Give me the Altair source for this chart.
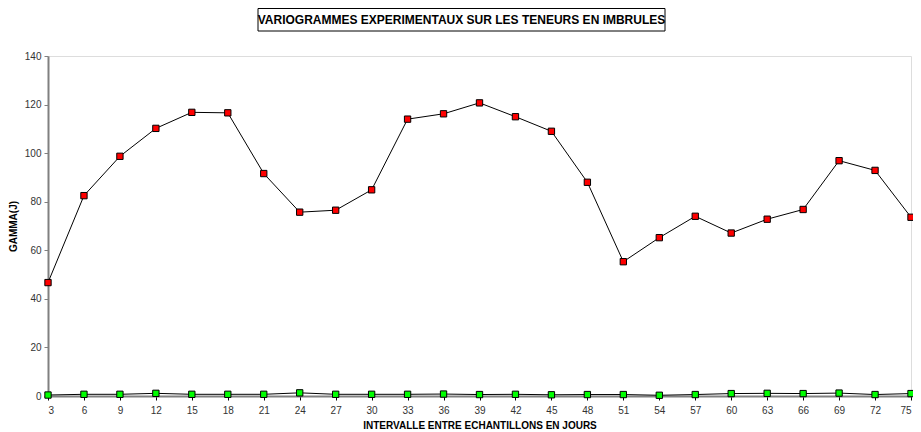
import altair as alt
import pandas as pd

# Data
lags = [3, 6, 9, 12, 15, 18, 21, 24, 27, 30, 33, 36, 39, 42, 45, 48, 51, 54, 57, 60, 63, 66, 69, 72, 75]
gamma_red = [46.7, 82.5, 98.7, 110.2, 116.8, 116.6, 91.6, 75.7, 76.5, 84.9, 114.0, 116.2, 120.7,
             115.0, 109.0, 88.0, 55.3, 65.2, 74.0, 67.1, 72.8, 76.8, 96.9, 92.9, 73.6]
gamma_green = [0.4, 0.7, 0.7, 1.1, 0.7, 0.7, 0.7, 1.3, 0.7, 0.7, 0.7, 0.8, 0.6,
               0.7, 0.5, 0.6, 0.6, 0.3, 0.6, 1.0, 1.1, 1.0, 1.2, 0.6, 1.0]
x_ticks = lags
y_ticks = [0, 20, 40, 60, 80, 100, 120, 140]
title_text = ["VARIOGRAMMES EXPERIMENTAUX SUR LES TENEURS EN IMBRULES"]

df = pd.DataFrame({"lag": lags, "red": gamma_red, "green": gamma_green})
tdf = pd.DataFrame({"t": title_text})

FONT = "Liberation Sans"

x = alt.X("lag:Q", scale=alt.Scale(domain=[3, 75], nice=False, zero=False),
          axis=alt.Axis(values=x_ticks, title="INTERVALLE ENTRE ECHANTILLONS EN JOURS",
                        grid=False, domainColor="#808080", domainWidth=2,
                        tickColor="#000000", tickSize=4, labelPadding=5,
                        labelFontSize=10, labelColor="#333333", labelFont=FONT,
                        titleFont=FONT, titleFontSize=10, titleFontWeight="bold",
                        titleColor="#000000", titlePadding=5))
yaxis = alt.Axis(values=y_ticks, title="GAMMA(J)", grid=False, domainColor="#808080",
                 domainWidth=2, tickColor="#808080", tickSize=4, labelPadding=3,
                 labelFontSize=10, labelColor="#333333", labelFont=FONT,
                 titleFont=FONT, titleFontSize=10, titleFontWeight="bold",
                 titleColor="#000000", titlePadding=6)
yscale = alt.Scale(domain=[0, 140], nice=False)

base = alt.Chart(df)

red_line = base.mark_line(color="black", strokeWidth=1).encode(
    x=x, y=alt.Y("red:Q", scale=yscale, axis=yaxis))
red_pts = base.mark_point(shape="square", filled=True, fill="#FF0000", stroke="black",
                          strokeWidth=1, size=40, opacity=1).encode(
    x=x, y=alt.Y("red:Q", scale=yscale))
green_line = base.mark_line(color="black", strokeWidth=1).encode(
    x=x, y=alt.Y("green:Q", scale=yscale))
green_pts = base.mark_point(shape="square", filled=True, fill="#00FF00", stroke="black",
                            strokeWidth=1, size=40, opacity=1).encode(
    x=x, y=alt.Y("green:Q", scale=yscale))

title_box = alt.Chart(tdf).mark_rect(fill="white", stroke="black", strokeWidth=1).encode(
    x=alt.value(210), x2=alt.value(617), y=alt.value(-47.5), y2=alt.value(-25))
title_txt = alt.Chart(tdf).mark_text(font=FONT, fontSize=12, fontWeight="bold",
                                     color="black", align="center", baseline="middle").encode(
    x=alt.value(413.5), y=alt.value(-36), text="t:N")

chart = alt.layer(red_line, green_line, red_pts, green_pts, title_box, title_txt).properties(
    width=863, height=340,
    autosize=alt.AutoSizeParams(type="none"),
    padding={"left": 40, "top": 48, "right": 2, "bottom": 36},
).configure_view(stroke=None).configure(background="white")

chart.save("out.html", embed_options={"renderer": "svg", "actions": False})
